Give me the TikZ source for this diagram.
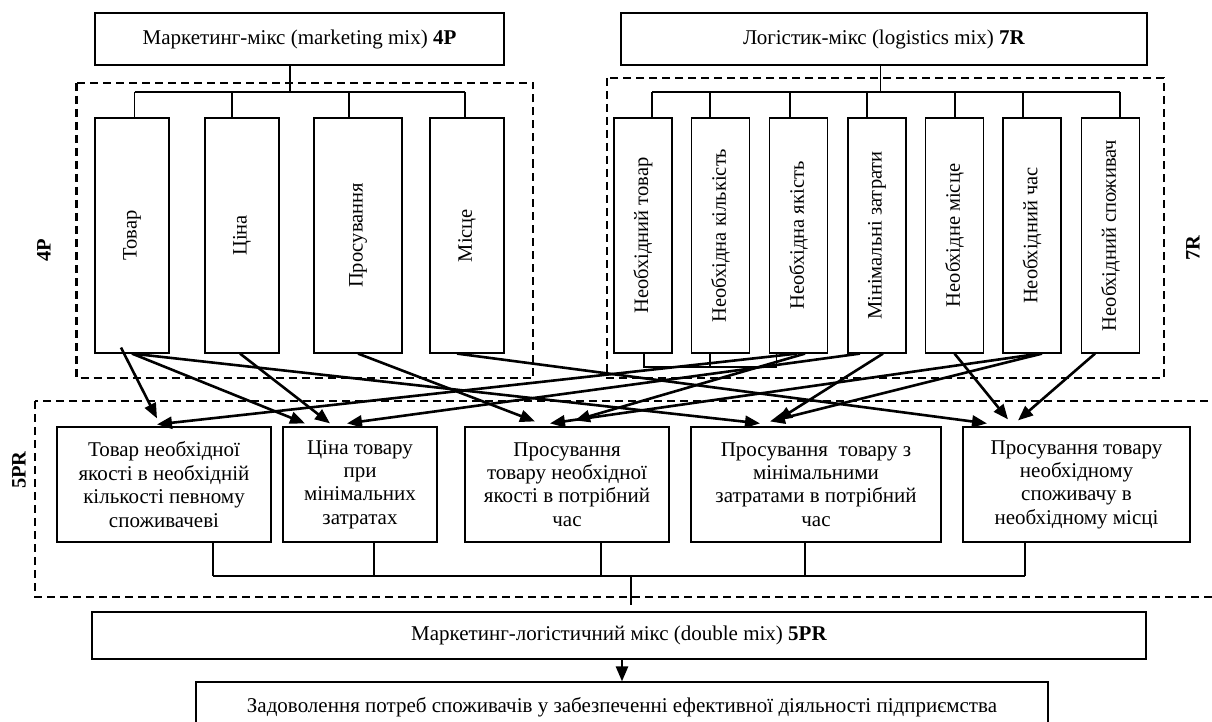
\documentclass[tikz,border=0pt]{standalone}
\usepackage{fontspec}
\setmainfont{Liberation Serif}
\usetikzlibrary{arrows.meta}
\begin{document}
\begin{tikzpicture}[x=1pt,y=-1pt,
  box/.style={draw, line width=1.2pt, inner sep=0pt, align=center,
    font=\fontsize{21}{23.4}\selectfont},
  vtxt/.style={rotate=90, font=\fontsize{20.5}{23.4}\selectfont},
  lab/.style={rotate=90, font=\fontsize{20.5}{23.4}\selectfont\bfseries},
  tree/.style={line width=1.2pt},
  dbox/.style={line width=2.2pt, dash pattern=on 8pt off 5pt},
  arr/.style={line width=2.6pt, -{Triangle[length=15pt,width=12pt]}}
]
\useasboundingbox (0,0) rectangle (1212,722);

% top boxes
\node[box, minimum width=409pt, minimum height=52pt] (mk) at (299.5,39) {Маркетинг-мікс (marketing mix) \textbf{4P}};
\node[box, minimum width=526pt, minimum height=52pt] (lg) at (884,39) {Логістик-мікс (logistics mix) \textbf{7R}};

% dashed frames
\draw[dbox] (76.5,83) rectangle (533,378);
\draw[dbox] (607,78) rectangle (1164,378);
\draw[dbox] (35,401) rectangle (1225,597);

\node[lab] (l4p) at (44,250) {4P};
\node[lab] (l7r) at (1193,248) {7R};
\node[lab] (l5pr) at (19,470) {5PR};

% 4P boxes
\foreach \n/\x/\w/\t in {p1/132/74/Товар, p2/242/74/Ціна, p3/358/88/Просування, p4/467/74/Місце}{
  \node[box, minimum width=\w pt, minimum height=235pt] (\n) at (\x,235.5) {};
  \node[vtxt] at (\n) {\t};
}
% 7R boxes
\foreach \n/\x/\t in {r1/643/Необхідний товар, r2/720.5/Необхідна кількість, r3/798.5/Необхідна якість, r4/877/Мінімальні затрати, r5/954.5/Необхідне місце, r6/1032/Необхідний час, r7/1110.5/Необхідний споживач}{
  \node[box, minimum width=58pt, minimum height=235pt] (\n) at (\x,235.5) {};
  \node[vtxt] at (\n) {\t};
}

% 4P tree
\coordinate (mkb) at (290,92);
\draw[tree] (mkb |- mk.south) -- (mkb);
\coordinate (pb1) at (134.5,92);
\coordinate (pb2) at (232,92);
\coordinate (pb3) at (349,92);
\coordinate (pb4) at (465,92);
\draw[tree] (pb1) -- (pb4);
\draw[tree] (pb1) -- (pb1 |- p1.north);
\draw[tree] (pb2) -- (pb2 |- p2.north);
\draw[tree] (pb3) -- (pb3 |- p3.north);
\draw[tree] (pb4) -- (pb4 |- p4.north);

% 7R tree
\coordinate (lgb) at (880.5,92);
\draw[tree] (lgb |- lg.south) -- (lgb);
\coordinate (rb1) at (652,92);
\coordinate (rb2) at (710,92);
\coordinate (rb3) at (790,92);
\coordinate (rb4) at (867,92);
\coordinate (rb5) at (955,92);
\coordinate (rb6) at (1023,92);
\coordinate (rb7) at (1120,92);
\draw[tree] (rb1) -- (rb7);
\foreach \i in {1,...,7}{ \draw[tree] (rb\i) -- (rb\i |- r\i.north); }

% bracket under first three 7R boxes
\coordinate (k1) at (644,367);
\coordinate (k2) at (710,367);
\coordinate (k3) at (776.5,367);
\draw[tree] (k1 |- r1.south) -- (k1) -- (k3) -- (k3 |- r3.south);
\draw[tree] (k2 |- r2.south) -- (k2);

% 5PR boxes
\node[box, minimum width=214pt, minimum height=115pt] (s1) at (164,484.5) {Товар необхідної\\якості в необхідній\\кількості певному\\споживачеві};
\node[box, minimum width=154pt, minimum height=115pt] (s2) at (360,484.5) {Ціна товару\\при\\мінімальних\\затратах};
\node[box, minimum width=204pt, minimum height=115pt] (s3) at (567,484.5) {Просування\\товару необхідної\\якості в потрібний\\час};
\node[box, minimum width=250pt, minimum height=115pt] (s4) at (816,484.5) {Просування\ \ товару з\\мінімальними\\затратами в потрібний\\час};
\node[box, minimum width=227pt, minimum height=115pt] (s5) at (1076.5,484.5) {Просування товару\\необхідному\\споживачу в\\необхідному місці};

% bottom boxes
\node[box, minimum width=1054pt, minimum height=47pt] (dl) at (619,635.5) {Маркетинг-логістичний мікс (double mix) \textbf{5PR}};
\node[box, minimum width=852pt, minimum height=50pt] (fin) at (622,707) {Задоволення потреб споживачів у забезпеченні ефективної діяльності підприємства};

% 5PR bus
\coordinate (sb1) at (213,576);
\coordinate (sb2) at (374,576);
\coordinate (sb3) at (601,576);
\coordinate (sb4) at (805,576);
\coordinate (sb5) at (1025,576);
\coordinate (sbc) at (631,576);
\draw[tree] (sb1) -- (sb5);
\foreach \i in {1,...,5}{ \draw[tree] (sb\i |- s\i.south) -- (sb\i); }
\draw[tree, shorten >=6pt] (sbc) -- (sbc |- dl.north);

\draw[arr] (dl.south -| fin.north) -- (fin.north);

% arrows 4P -> 5PR
\draw[arr] ([xshift=-11pt,yshift=6pt]p1.south) -- ([xshift=-7pt,yshift=8pt]s1.north);
\draw[arr] (p1.south) -- ([xshift=-55pt,yshift=3pt]s2.north);
\draw[arr] (p1.south) -- ([xshift=-56pt,yshift=3pt]s4.north);
\draw[arr] ([xshift=-2pt]p2.south) -- ([xshift=-30pt,yshift=3pt]s2.north);
\draw[arr] (p3.south) -- ([xshift=-32pt,yshift=5pt]s3.north);
\draw[arr] ([xshift=-10pt]p4.south) -- ([xshift=-89.5pt,yshift=3pt]s5.north);

% arrows 7R -> 5PR
\draw[arr] ([xshift=-1.5pt]r3.south) -- ([xshift=-7pt,yshift=2pt]s1.north);
\draw[arr] ([xshift=6.5pt]r3.south) -- ([xshift=8pt,yshift=6pt]s3.north);
\draw[arr] ([xshift=-17pt]r4.south) -- ([xshift=-13pt,yshift=3pt]s2.north);
\draw[arr] ([xshift=6pt]r4.south) -- ([xshift=-39pt,yshift=6pt]s4.north);
\draw[arr] ([xshift=8pt]r6.south) -- ([xshift=-17pt,yshift=3pt]s3.north);
\draw[arr] ([xshift=10pt]r6.south) -- ([xshift=-46pt,yshift=5pt]s4.north);
\draw[arr] (r5.south) -- ([xshift=-68.5pt,yshift=7pt]s5.north);
\draw[arr] ([xshift=-15.5pt]r7.south) -- ([xshift=-58.5pt,yshift=6pt]s5.north);
\end{tikzpicture}
\end{document}
